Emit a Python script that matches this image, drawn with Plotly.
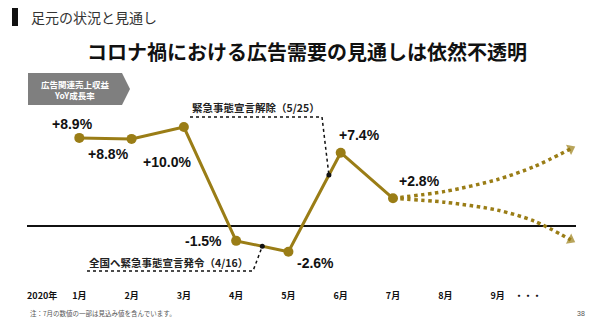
import numpy as np
import plotly.graph_objects as go

# ---- data ----
months = [1, 2, 3, 4, 5, 6, 7]
yoy_growth = [8.9, 8.8, 10.0, -1.5, -2.6, 7.4, 2.8]
value_labels = ["+8.9%", "+8.8%", "+10.0%", "-1.5%", "-2.6%", "+7.4%", "+2.8%"]
proj_x = [7, 8, 9, 9.7, 10.4]
proj_upper = [2.8, 3.5, 4.7, 6.0, 7.8]
proj_lower = [2.8, 2.4, 1.6, 0.5, -1.4]
tick_pos = [0.29, 1, 2, 3, 4, 5, 6, 7, 8, 9, 9.58]
tick_text = ["2020年", "1月", "2月", "3月", "4月", "5月", "6月", "7月", "8月", "9月", "・・・"]
events = [("全国へ緊急事態宣言発令（4/16）", 4, 16, 30), ("緊急事態宣言解除（5/25）", 5, 25, 31)]

GOLD = "#9A7D16"
W, H = 590, 321
ML, MR, MT, MB = 27, 14, 40, 32
PW, PH = W - ML - MR, H - MT - MB
XR = [0, 10.5]
PXU = 9.9
ZERO_PX = 226
YR = [-(H - MB - ZERO_PX) / PXU, (ZERO_PX - MT) / PXU]

def px2x(px):
    return XR[0] + (px - ML) / PW * (XR[1] - XR[0])

def py2y(py):
    return (ZERO_PX - py) / PXU

def P(px):
    return (px - ML) / PW

def Q(py):
    return (H - MB - py) / PH

fig = go.Figure()

# projections
for pv in (proj_upper, proj_lower):
    fig.add_trace(go.Scatter(
        x=proj_x, y=pv, mode="lines+markers",
        line=dict(color=GOLD, width=3.5, dash="dot", shape="spline", smoothing=0.8),
        marker=dict(symbol="triangle-up", size=[0, 0, 0, 0, 10], color=GOLD,
                    angleref="previous", line=dict(width=0)),
        hoverinfo="skip", showlegend=False))

# main line
fig.add_trace(go.Scatter(
    x=months, y=yoy_growth, mode="lines+markers",
    line=dict(color=GOLD, width=3),
    marker=dict(size=10, color=GOLD),
    showlegend=False))

# value labels (offsets in px)
offsets = [(-7, 14), (-23, -15), (-17, -35), (-33, 0), (27, -11), (19, 18), (26, 17)]
for m, v, t, (dx, dy) in zip(months, yoy_growth, value_labels, offsets):
    fig.add_annotation(x=m, y=v, text=f"<b>{t}</b>", showarrow=False,
                       xanchor="center", yanchor="middle",
                       xshift=dx, yshift=dy,
                       font=dict(family="Liberation Sans", size=14, color="#111"))

# event leader lines
leader_layout = [
    # (text left px, text y px, underline y px, underline x0 px, underline x1 px)
    (87, 262, 271, 87, 253),
    (190, 107, 117, 190, 322),
]
ex, ey = [], []
for (txt, mon, day, ndays), (tx, ty, uy, ux0, ux1) in zip(events, leader_layout):
    xe = mon + (day - 1) / ndays
    ye = float(np.interp(xe, months, yoy_growth))
    ex.append(xe)
    ey.append(ye)
    fig.add_trace(go.Scatter(
        x=[px2x(ux0), px2x(ux1), xe], y=[py2y(uy), py2y(uy), ye],
        mode="lines", line=dict(color="#111", width=1.5, dash="dot"),
        hoverinfo="skip", showlegend=False))
    fig.add_annotation(x=px2x(tx), y=py2y(ty), text=f"<b>{txt}</b>", showarrow=False,
                       xanchor="left", yanchor="middle",
                       font=dict(family="Noto Sans CJK JP", size=10.5, color="#222"))
fig.add_trace(go.Scatter(x=ex, y=ey, mode="markers",
                         marker=dict(size=5, color="#111"),
                         hoverinfo="skip", showlegend=False))

# header
fig.add_shape(type="rect", xref="paper", yref="paper",
              x0=P(12), x1=P(18), y0=Q(26), y1=Q(8),
              fillcolor="#111", line=dict(width=0))
fig.add_annotation(xref="paper", yref="paper", x=P(29), y=Q(17),
                   xanchor="left", yanchor="middle",
                   text="足元の状況と見通し", showarrow=False,
                   font=dict(family="Noto Sans CJK JP", size=14, color="#333"))
fig.add_annotation(xref="paper", yref="paper", x=P(307), y=Q(51),
                   xanchor="center", yanchor="middle",
                   text="<b>コロナ禍における広告需要の見通しは依然不透明</b>", showarrow=False,
                   font=dict(family="Noto Sans CJK JP", size=20, color="#111"))

# gray arrow box
bx0, bx1, btip, by0, by1 = 28, 122, 130, 73, 105
path = (f"M {P(bx0)},{Q(by0)} L {P(bx1)},{Q(by0)} L {P(btip)},{Q((by0 + by1) / 2)} "
        f"L {P(bx1)},{Q(by1)} L {P(bx0)},{Q(by1)} Z")
fig.add_shape(type="path", xref="paper", yref="paper", path=path,
              fillcolor="#7f7f7f", line=dict(width=0))
fig.add_annotation(xref="paper", yref="paper", x=P(75), y=Q(84),
                   xanchor="center", yanchor="middle",
                   text="<b>広告関連売上収益</b>", showarrow=False,
                   font=dict(family="Noto Sans CJK JP", size=8.5, color="white"))
fig.add_annotation(xref="paper", yref="paper", x=P(74), y=Q(95),
                   xanchor="center", yanchor="middle",
                   text="<b>YoY成長率</b>", showarrow=False,
                   font=dict(family="Noto Sans CJK JP", size=8.5, color="white"))

# footnote and page number
fig.add_annotation(xref="paper", yref="paper", x=P(28), y=Q(313),
                   xanchor="left", yanchor="middle",
                   text="注：7月の数値の一部は見込み値を含んでいます。", showarrow=False,
                   font=dict(family="Noto Sans CJK JP", size=6.5, color="#555"))
fig.add_annotation(xref="paper", yref="paper", x=P(587), y=Q(313),
                   xanchor="right", yanchor="middle",
                   text="38", showarrow=False,
                   font=dict(family="Liberation Sans", size=7, color="#555"))

fig.update_layout(
    width=W, height=H, margin=dict(l=ML, r=MR, t=MT, b=MB),
    paper_bgcolor="white", plot_bgcolor="white",
    xaxis=dict(range=XR, tickvals=tick_pos, ticktext=[f"<b>{t}</b>" for t in tick_text],
               showgrid=False, zeroline=False, showline=False, ticks="",
               tickfont=dict(family="Noto Sans CJK JP", size=9, color="#111")),
    yaxis=dict(range=YR, showgrid=False, showticklabels=False, ticks="",
               zeroline=True, zerolinecolor="#111", zerolinewidth=1.5, showline=False),
)
fig.write_html("out.html")
